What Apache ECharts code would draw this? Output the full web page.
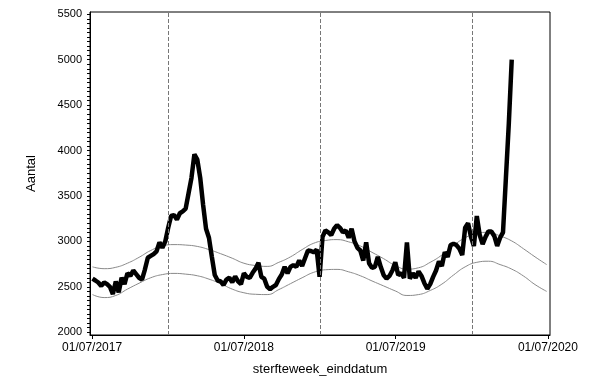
<!DOCTYPE html>
<html><head><meta charset="utf-8">
<script src="https://cdn.jsdelivr.net/npm/echarts@6/dist/echarts.min.js"></script>
<style>html,body{margin:0;padding:0;background:#fff}#c{width:616px;height:386px}</style>
</head><body><div id="c"></div>
<script>
// weekly deaths (week ending dates, first week ends 2017-07-02)
const firstWeekEnd = [2017, 6, 2];
const deaths = [
2590,2570,2548,2510,2550,2530,2500,2420,2560,2440,
2600,2530,2650,2620,2680,2640,2600,2580,2690,2820,
2840,2860,2890,2990,2930,3000,3150,3280,3290,3240,
3310,3330,3360,3530,3700,3960,3900,3700,3400,3140,
3040,2830,2630,2570,2560,2520,2580,2600,2550,2615,
2560,2530,2650,2610,2600,2655,
2700,2765,2610,2590,2500,2475,2500,2520,2585,2636,
2720,2650,2720,2740,2720,2790,2730,2815,2900,2895,
2880,2910,2610,3050,3120,3100,3070,3140,3180,3150,
3100,3120,3040,3140,3000,2930,2900,2790,2990,2760,
2710,2720,2830,2720,2630,2590,2620,2680,2770,2630,
2650,2600,
2990,2590,2650,2600,2670,2620,2540,2480,2530,2610,
2680,2780,2730,2880,2830,2960,2975,2960,2920,2850,
3150,3200,3050,2950,3280,3070,2970,3050,3110,3110,
3060,2950,3040,3100,3700,4300,5000
];
// expected band (every 4 weeks from 2017-07-02)
const upperBand = [
2720,2700,2715,2760,2825,2900,2950,2965,2960,2945,
2910,2865,2815,2760,2735,2725,2770,2830,2910,2980,
3010,3020,2995,2950,2880,2810,2735,2695,2710,2770,
2850,2955,3040,3090,3100,3060,3005,2920,2830,2745
];
const lowerBand = [
2415,2382,2405,2475,2540,2600,2635,2648,2640,2622,
2585,2535,2475,2435,2418,2415,2470,2535,2600,2660,
2688,2692,2665,2622,2565,2510,2455,2405,2415,2460,
2530,2630,2720,2770,2782,2745,2695,2620,2525,2450
];
const yTickStep = 500;
const xTickDates = ['2017-07-01','2018-07-01','2019-07-01','2020-07-01'];
const yearStarts = ['2018-01-01','2019-01-01','2020-01-01'];

function ts(s){const p=s.split('-').map(Number);return new Date(p[0],p[1]-1,p[2]).getTime();}
function week(i,step){return new Date(firstWeekEnd[0],firstWeekEnd[1],firstWeekEnd[2]+step*i).getTime();}
function fmt(v){const d=new Date(v);const p=n=>(n<10?'0':'')+n;return p(d.getDate())+'/'+p(d.getMonth()+1)+'/'+d.getFullYear();}

const mainData = deaths.map((v,i)=>[week(i,7),v]);
const upData = upperBand.map((v,i)=>[week(i,28),v]);
const loData = lowerBand.map((v,i)=>[week(i,28),v]);
const minorY = [];
for(let v=2000; v<=5500; v+=50) minorY.push(v);

const font = 'Arial, "Liberation Sans", sans-serif';
const chart = echarts.init(document.getElementById('c'), null, {renderer:'canvas'});
chart.setOption({
  animation:false,
  backgroundColor:'#fff',
  grid:{left:90, top:12, width:460, height:323, show:true, borderColor:'#000', borderWidth:1, containLabel:false},
  xAxis:{
    type:'value', min:ts('2017-06-26'), max:ts('2020-07-06'), scale:true,
    name:'sterfteweek_einddatum', nameLocation:'middle', nameGap:28,
    nameTextStyle:{fontFamily:font, fontSize:13, color:'#000'},
    axisLine:{show:true, lineStyle:{color:'#000', width:1}},
    axisTick:{show:true, length:4, inside:false, customValues:xTickDates.map(ts), lineStyle:{color:'#000'}},
    axisLabel:{show:true, customValues:xTickDates.map(ts), margin:7, fontFamily:font, fontSize:12, color:'#000',
      formatter:fmt},
    splitLine:{show:false}, minorTick:{show:false}
  },
  yAxis:{
    type:'value', min:1970, max:5525,
    name:'Aantal', nameLocation:'middle', nameGap:52,
    nameTextStyle:{fontFamily:font, fontSize:13, color:'#000'},
    axisLine:{show:true, lineStyle:{color:'#000', width:1}},
    axisTick:{show:true, length:3, customValues:minorY, lineStyle:{color:'#000'}},
    axisLabel:{show:true, customValues:minorY, margin:8, fontFamily:font, fontSize:11, color:'#000',
      formatter:(v)=>(v % yTickStep === 0 ? String(v) : '')},
    splitLine:{show:false}
  },
  series:[
    {type:'line', data:upData, smooth:true, showSymbol:false, symbol:'none',
     lineStyle:{color:'#8a8a8a', width:1}, itemStyle:{color:'#8a8a8a'}, z:2,
     markLine:{silent:true, symbol:'none', label:{show:false},
       lineStyle:{color:'#777', type:[4,2], width:1},
       data:yearStarts.map(d=>({xAxis:ts(d)}))}},
    {type:'line', data:loData, smooth:true, showSymbol:false, symbol:'none',
     lineStyle:{color:'#8a8a8a', width:1}, itemStyle:{color:'#8a8a8a'}, z:2},
    {type:'line', data:mainData, showSymbol:false, symbol:'none',
     lineStyle:{color:'#000', width:4.5}, itemStyle:{color:'#000'}, z:3}
  ]
});
</script></body></html>
